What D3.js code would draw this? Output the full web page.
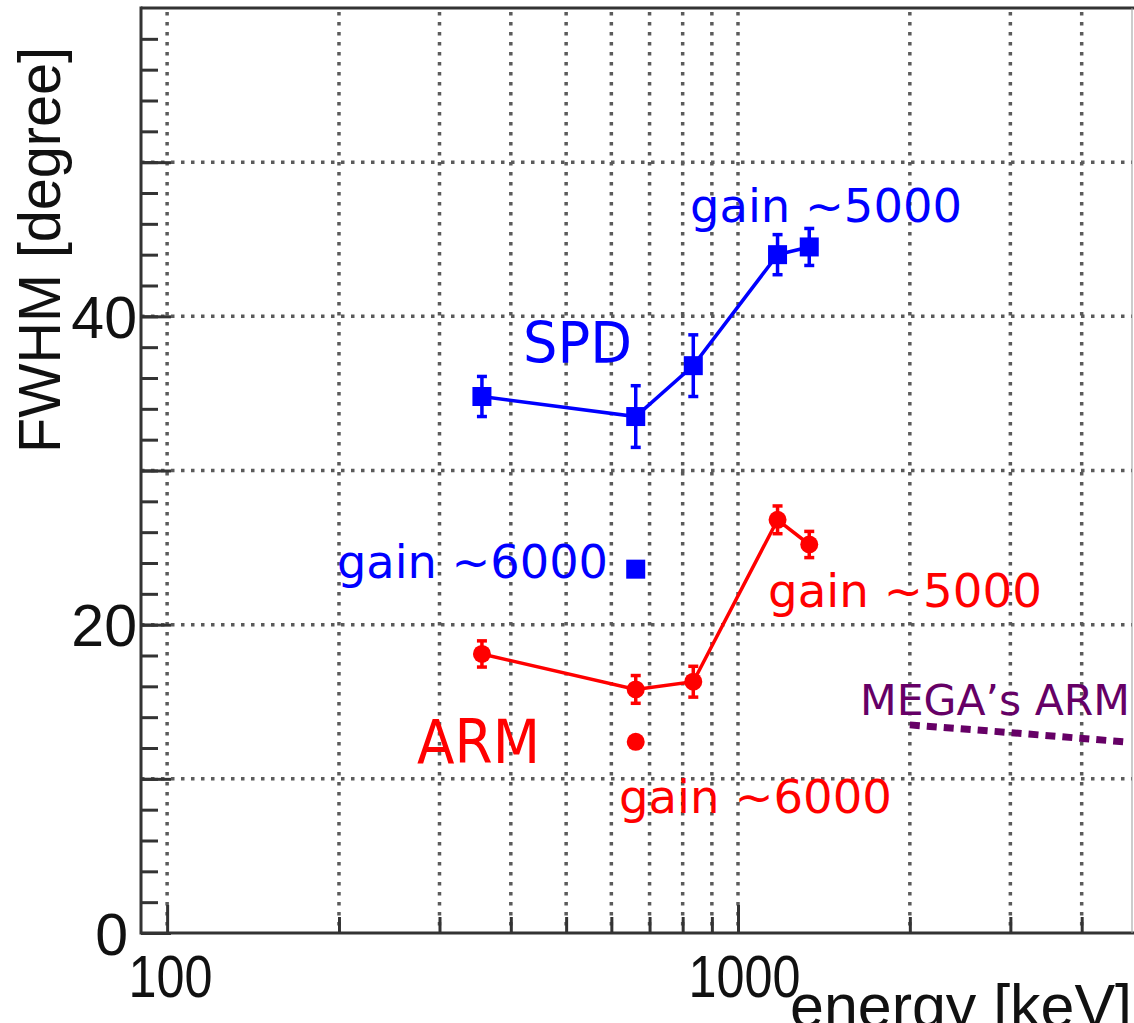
<!DOCTYPE html>
<html>
<head>
<meta charset="utf-8">
<script src="https://cdn.jsdelivr.net/npm/d3@7"></script>
<style>
  html, body { margin: 0; padding: 0; background: #fff; }
  svg { display: block; }
  .tick text { font-family: "Liberation Sans", Arial, sans-serif; fill: #111; }
  .note { font-family: "DejaVu Sans", Verdana, sans-serif; }
</style>
</head>
<body>
<svg id="chart" width="1134" height="1023"></svg>
<script>
// Photon energies of the calibration lines [keV]
const energies = [356, 662, 835, 1173, 1333];
// SPD (scatter plane deviation) FWHM at gain ~5000 [degree]
const spdFwhm = [34.8, 33.5, 36.8, 44.0, 44.5];
const spdErr  = [1.3, 2.0, 2.0, 1.3, 1.2];
// ARM (angular resolution measure) FWHM at gain ~5000 [degree]
const armFwhm = [18.1, 15.8, 16.3, 26.8, 25.2];
const armErr  = [0.85, 0.9, 1.0, 0.9, 0.85];
// Single measurement at gain ~6000
const highGainEnergy = [662];
const spdHighGain = [23.6];
const armHighGain = [12.4];
// MEGA reference ARM curve
const megaEnergy = [2000, 3000, 4750];
const megaArm = [13.5, 13.0, 12.4];

const xTickLabels = [100, 1000];
const yTickLabels = [0, 20, 40];

const svg = d3.select("#chart");
const plotLeft = 141, plotRight = 1132, plotTop = 8, plotBottom = 933;

const x = d3.scaleLog().domain([90, 4900]).range([plotLeft, plotRight]);
const y = d3.scaleLinear().domain([0, 60]).range([plotBottom, plotTop]);

svg.append("rect").attr("width", 1134).attr("height", 1023).attr("fill", "#fff");

svg.append("clipPath").attr("id", "plotArea")
  .append("rect").attr("x", plotLeft).attr("y", plotTop)
  .attr("width", plotRight - plotLeft).attr("height", plotBottom - plotTop);

// grid lines
const xGrid = [100, 200, 300, 400, 500, 600, 700, 800, 900, 1000, 2000, 3000, 4000];
const yGrid = [10, 20, 30, 40, 50];
const grid = svg.append("g").attr("stroke", "#333").attr("stroke-width", 3.5)
  .attr("stroke-dasharray", "3.5,6.5").attr("opacity", 0.8);
grid.selectAll("line.v").data(xGrid).join("line").attr("class", "v")
  .attr("x1", d => x(d)).attr("x2", d => x(d)).attr("y1", plotTop + 4).attr("y2", plotBottom);
grid.selectAll("line.h").data(yGrid).join("line").attr("class", "h")
  .attr("y1", d => y(d)).attr("y2", d => y(d)).attr("x1", plotLeft).attr("x2", plotRight);

// y axis: minor ticks every 2, major every 10
const yMinor = d3.range(0, 60, 2);
svg.append("g").attr("transform", `translate(${plotLeft},0)`)
  .call(d3.axisLeft(y).tickValues(yMinor).tickSizeInner(-17).tickSizeOuter(0).tickFormat(""))
  .call(g => g.select(".domain").remove())
  .call(g => g.selectAll("line").attr("stroke", "#333").attr("stroke-width", 3));
svg.append("g").attr("transform", `translate(${plotLeft},0)`)
  .call(d3.axisLeft(y).tickValues(d3.range(0, 60, 10)).tickSizeInner(-30).tickSizeOuter(0)
    .tickPadding(4).tickFormat(d => yTickLabels.includes(d) ? d : ""))
  .call(g => g.select(".domain").remove())
  .call(g => g.selectAll("line").attr("stroke", "#333").attr("stroke-width", 3))
  .call(g => g.selectAll("text").attr("font-size", 59).attr("dy", "0.36em")
    .attr("x", d => d === 0 ? -13 : -4));

// x axis: minor and decade ticks
const xMinor = [200, 300, 400, 500, 600, 700, 800, 900, 2000, 3000, 4000];
svg.append("g").attr("transform", `translate(0,${plotBottom})`)
  .call(d3.axisBottom(x).tickValues(xMinor).tickSizeInner(-16).tickSizeOuter(0).tickFormat(""))
  .call(g => g.select(".domain").remove())
  .call(g => g.selectAll("line").attr("stroke", "#333").attr("stroke-width", 3));
svg.append("g").attr("transform", `translate(0,${plotBottom})`)
  .call(d3.axisBottom(x).tickValues(xTickLabels).tickSizeInner(-28).tickSizeOuter(0).tickFormat(d3.format("d")))
  .call(g => g.select(".domain").remove())
  .call(g => g.selectAll("line").attr("stroke", "#333").attr("stroke-width", 3))
  .call(g => g.selectAll("text").attr("font-size", 60).attr("dy", null).attr("y", 64)
    .attr("x", d => d === 100 ? 3 : 6)
    .attr("textLength", d => d === 100 ? 84 : 112).attr("lengthAdjust", "spacingAndGlyphs"));

// frame
const frame = svg.append("g").attr("fill", "none");
frame.append("line").attr("x1", plotLeft).attr("x2", plotLeft).attr("y1", plotTop - 1.5).attr("y2", plotBottom + 1.5)
  .attr("stroke", "#333").attr("stroke-width", 3);
frame.append("line").attr("x1", plotLeft).attr("x2", 1134).attr("y1", plotBottom).attr("y2", plotBottom)
  .attr("stroke", "#333").attr("stroke-width", 3);
frame.append("line").attr("x1", plotLeft).attr("x2", 1134).attr("y1", plotTop).attr("y2", plotTop)
  .attr("stroke", "#333").attr("stroke-width", 3);
frame.append("line").attr("x1", plotRight).attr("x2", plotRight).attr("y1", plotTop).attr("y2", plotBottom)
  .attr("stroke", "#999").attr("stroke-width", 1);

// axis titles
svg.append("text")
  .attr("transform", `translate(60,47) rotate(-90)`)
  .attr("text-anchor", "end")
  .attr("font-family", "Liberation Sans, Arial, sans-serif")
  .attr("font-size", 60).attr("fill", "#111")
  .attr("textLength", 406).attr("lengthAdjust", "spacingAndGlyphs")
  .text("FWHM [degree]");
svg.append("text")
  .attr("x", 790).attr("y", 1027)
  .attr("font-family", "Liberation Sans, Arial, sans-serif")
  .attr("font-size", 61).attr("fill", "#111")
  .attr("textLength", 342).attr("lengthAdjust", "spacingAndGlyphs")
  .text("energy [keV]");

const plot = svg.append("g").attr("clip-path", "url(#plotArea)");

// MEGA reference curve
plot.append("path")
  .datum(megaEnergy.map((e, i) => [e, megaArm[i]]))
  .attr("d", d3.line().x(d => x(d[0])).y(d => y(d[1])))
  .attr("fill", "none").attr("stroke", "#660066").attr("stroke-width", 7)
  .attr("stroke-dasharray", "10,7");

function series(values, errs, color, marker) {
  const g = plot.append("g");
  const pts = energies.map((e, i) => ({ e, v: values[i], s: errs[i] }));
  g.append("path").datum(pts)
    .attr("d", d3.line().x(d => x(d.e)).y(d => y(d.v)))
    .attr("fill", "none").attr("stroke", color).attr("stroke-width", 3.5);
  const eb = g.selectAll("g.err").data(pts).join("g").attr("class", "err")
    .attr("stroke", color).attr("stroke-width", 3.5);
  eb.append("line").attr("x1", d => x(d.e)).attr("x2", d => x(d.e))
    .attr("y1", d => y(d.v - d.s)).attr("y2", d => y(d.v + d.s));
  eb.append("line").attr("x1", d => x(d.e) - 5).attr("x2", d => x(d.e) + 5)
    .attr("y1", d => y(d.v + d.s)).attr("y2", d => y(d.v + d.s));
  eb.append("line").attr("x1", d => x(d.e) - 5).attr("x2", d => x(d.e) + 5)
    .attr("y1", d => y(d.v - d.s)).attr("y2", d => y(d.v - d.s));
  marker(g, pts);
}
const squares = (g, pts, color) => g.selectAll("rect.m").data(pts).join("rect").attr("class", "m")
  .attr("x", d => x(d.e) - 9.5).attr("y", d => y(d.v) - 9.5)
  .attr("width", 19).attr("height", 19).attr("fill", color);
const circles = (g, pts, color) => g.selectAll("circle.m").data(pts).join("circle").attr("class", "m")
  .attr("cx", d => x(d.e)).attr("cy", d => y(d.v)).attr("r", 9).attr("fill", color);

series(spdFwhm, spdErr, "#0000ff", (g, p) => squares(g, p, "#0000ff"));
series(armFwhm, armErr, "#ff0000", (g, p) => circles(g, p, "#ff0000"));

squares(plot.append("g"), highGainEnergy.map((e, i) => ({ e, v: spdHighGain[i] })), "#0000ff");
circles(plot.append("g"), highGainEnergy.map((e, i) => ({ e, v: armHighGain[i] })), "#ff0000");

// annotations
const notes = [
  { t: "gain ~5000", x: 690, y: 222, size: 47, len: 272, c: "#0000ff" },
  { t: "SPD", x: 523, y: 363, size: 57, len: 109, c: "#0000ff" },
  { t: "gain ~6000", x: 337, y: 578, size: 47, len: 271, c: "#0000ff" },
  { t: "gain ~5000", x: 768, y: 607, size: 47, len: 274, c: "#ff0000" },
  { t: "ARM", x: 417, y: 763, size: 60, len: 123, c: "#ff0000" },
  { t: "gain ~6000", x: 619, y: 813, size: 47, len: 273, c: "#ff0000" },
  { t: "MEGA’s ARM", x: 860, y: 715, size: 43, len: 270, c: "#660066" }
];
svg.selectAll("text.note").data(notes).join("text").attr("class", "note")
  .attr("x", d => d.x).attr("y", d => d.y)
  .attr("font-size", d => d.size).attr("fill", d => d.c)
  .attr("textLength", d => d.len).attr("lengthAdjust", "spacingAndGlyphs")
  .text(d => d.t);
</script>
</body>
</html>
